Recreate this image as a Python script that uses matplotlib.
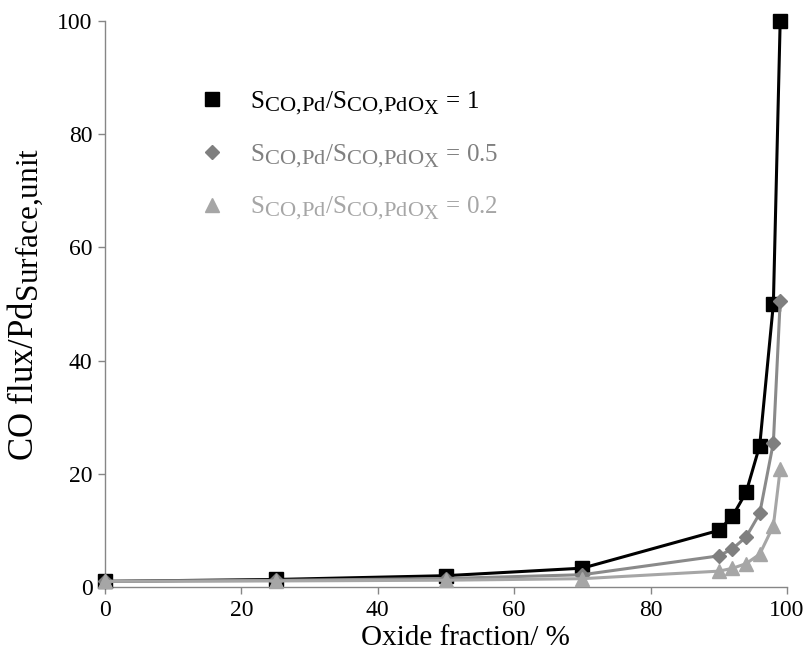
import matplotlib
matplotlib.use("Agg")
import matplotlib.pyplot as plt
import matplotlib._mathtext as _mathtext

plt.rcParams['font.family'] = ['Liberation Serif', 'DejaVu Serif']
plt.rcParams['mathtext.fontset'] = 'custom'
plt.rcParams['mathtext.rm'] = 'Liberation Serif'
plt.rcParams['mathtext.it'] = 'Liberation Serif:italic'
# subscripts drawn nearly full size, as in the original typesetting
_mathtext.SHRINK_FACTOR = 0.9

# Oxide fraction (%) and CO flux per surface Pd for three selectivity ratios
oxide_fraction = [0, 25, 50, 70, 90, 92, 94, 96, 98, 99]
flux_ratio_1 = [1.0, 1.33, 2.0, 3.33, 10.0, 12.5, 16.7, 25.0, 50.0, 100.0]
flux_ratio_05 = [1.0, 1.17, 1.5, 2.17, 5.5, 6.75, 8.83, 13.0, 25.5, 50.5]
flux_ratio_02 = [1.0, 1.07, 1.2, 1.47, 2.8, 3.3, 4.13, 5.8, 10.8, 20.8]

labels = [r"$\mathrm{S_{CO{,}Pd}/S_{CO{,}PdO_X}}$ = 1",
          r"$\mathrm{S_{CO{,}Pd}/S_{CO{,}PdO_X}}$ = 0.5",
          r"$\mathrm{S_{CO{,}Pd}/S_{CO{,}PdO_X}}$ = 0.2"]
x_ticks = [0, 20, 40, 60, 80, 100]
y_ticks = [0, 20, 40, 60, 80, 100]

fig = plt.figure(figsize=(8.11, 6.64), dpi=100)
ax = fig.add_axes([105 / 811, 1 - 587 / 664, (787 - 105) / 811, (587 - 21) / 664])

ax.plot(oxide_fraction, flux_ratio_1, color='black', lw=2.2, marker='s',
        ms=10.5, label=labels[0], zorder=3)
ax.plot(oxide_fraction, flux_ratio_05, color='#8a8a8a', lw=2.2, marker='D',
        ms=7, mfc='#7f7f7f', mec='#7f7f7f', label=labels[1], zorder=4)
ax.plot(oxide_fraction, flux_ratio_02, color='#a6a6a6', lw=2.2, marker='^',
        ms=10.5, label=labels[2], zorder=5)

ax.set_xlim(0, 100)
ax.set_ylim(0, 100)
ax.set_xticks(x_ticks)
ax.set_yticks(y_ticks)
ax.margins(0)

for s in ['top', 'right']:
    ax.spines[s].set_visible(False)
for s in ['left', 'bottom']:
    ax.spines[s].set_color('#868686')
    ax.spines[s].set_linewidth(1.0)
ax.tick_params(axis='both', direction='out', length=5, width=1.0,
               color='#868686', labelsize=17, labelcolor='black', pad=4)
for line in ax.lines:
    line.set_clip_on(False)

ax.set_xlabel("Oxide fraction/ %", fontsize=21)
ax.xaxis.set_label_coords(0.529, -0.067)
ax.set_ylabel(r"CO flux/Pd$\mathrm{_{Surface{,}unit}}$", fontsize=25)
ax.yaxis.set_label_coords(-0.087, 0.5)

leg = ax.legend(loc='upper left', bbox_to_anchor=(0.106, 0.92), frameon=False,
                fontsize=18, handlelength=1.0, handletextpad=1.0,
                labelspacing=1.0, numpoints=1)
for handle in leg.legend_handles:
    handle.set_linestyle('none')
for text, c in zip(leg.get_texts(), ['black', '#808080', '#a6a6a6']):
    text.set_color(c)

fig.savefig("out.png", dpi=100)
